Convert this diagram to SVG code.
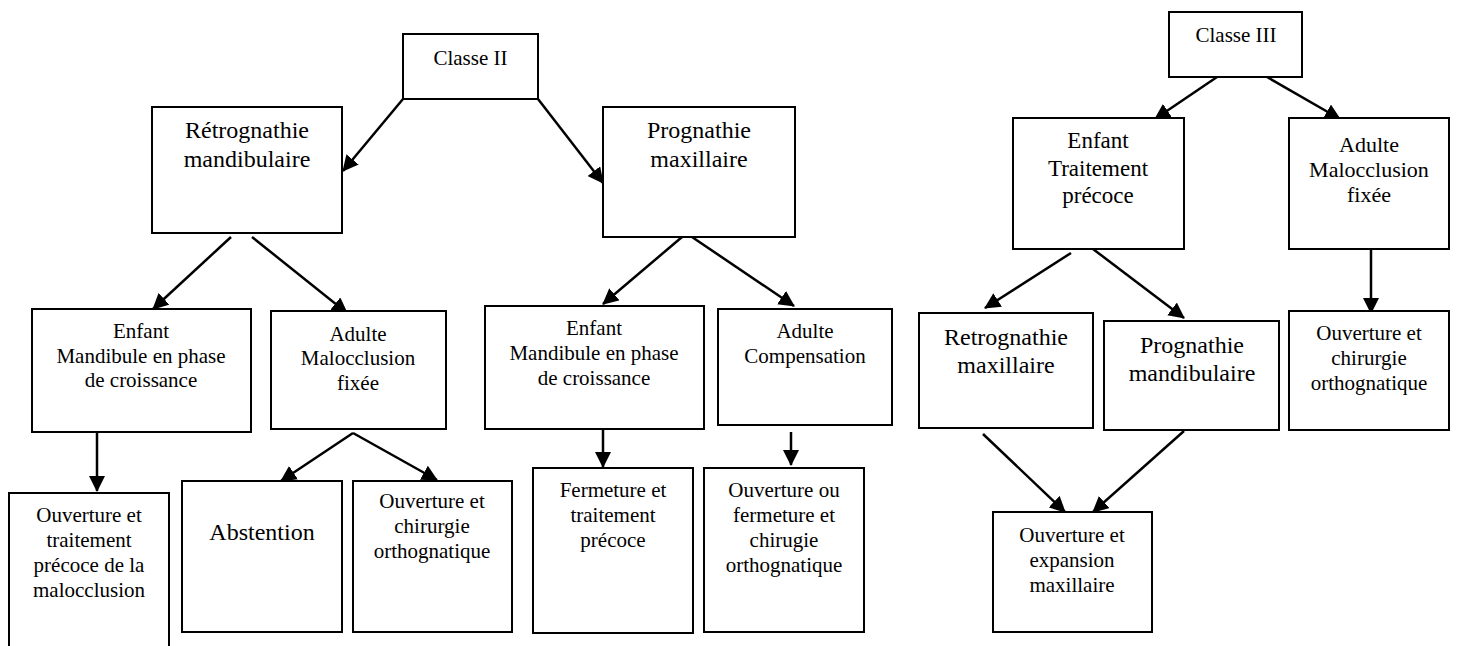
<svg xmlns="http://www.w3.org/2000/svg" width="1457" height="646" viewBox="0 0 1457 646">
<style>
.box{fill:#fff;stroke:#000;stroke-width:2}
.t{font-family:"Liberation Serif","Times New Roman",serif;fill:#000;text-anchor:middle}
.s21{font-size:21px}
.s24{font-size:24px}
.c{stroke:#000;stroke-width:2.5;fill:none;marker-end:url(#ah)}
</style>
<defs>
<marker id="ah" viewBox="0 0 16 16" refX="15" refY="8" markerWidth="16" markerHeight="16" markerUnits="userSpaceOnUse" orient="auto">
<path d="M0,0 L16,8 L0,16 z" fill="#000"/>
</marker>
</defs>
<rect width="1457" height="646" fill="#fff"/>
<g id="connectors">
<line class="c" x1="403" y1="99" x2="343" y2="171"/>
<line class="c" x1="538" y1="99" x2="603" y2="183"/>
<line class="c" x1="231" y1="237" x2="153" y2="309"/>
<line class="c" x1="252" y1="237" x2="347" y2="313"/>
<line class="c" x1="682" y1="237" x2="603" y2="304"/>
<line class="c" x1="692" y1="237" x2="794" y2="306"/>
<line class="c" x1="97" y1="432" x2="97" y2="491"/>
<line class="c" x1="353" y1="433" x2="281" y2="481"/>
<line class="c" x1="353" y1="433" x2="437" y2="480"/>
<line class="c" x1="603" y1="429" x2="603" y2="467"/>
<line class="c" x1="791" y1="432" x2="791" y2="465"/>
<line class="c" x1="1217" y1="77" x2="1155" y2="119"/>
<line class="c" x1="1267" y1="77" x2="1340" y2="119"/>
<line class="c" x1="1371" y1="249" x2="1371" y2="313"/>
<line class="c" x1="1071" y1="253" x2="985" y2="308"/>
<line class="c" x1="1093" y1="249" x2="1184" y2="318"/>
<line class="c" x1="983" y1="434" x2="1065" y2="512"/>
<line class="c" x1="1184" y1="431" x2="1093" y2="512"/>
</g>
<g id="classe2"><rect class="box" x="403" y="34" width="135" height="65"/><text class="t s21" x="470.5" y="65">Classe II</text></g>
<g id="retro_mand"><rect class="box" x="152" y="107" width="190" height="126"/><text class="t s24" x="247" y="138">Rétrognathie</text><text class="t s24" x="247" y="167">mandibulaire</text></g>
<g id="prog_max"><rect class="box" x="603" y="107" width="192" height="130"/><text class="t s24" x="699" y="138">Prognathie</text><text class="t s24" x="699" y="167">maxillaire</text></g>
<g id="enfant1"><rect class="box" x="32" y="309" width="219" height="123"/><text class="t s21" x="141" y="338">Enfant</text><text class="t s21" x="141" y="363">Mandibule en phase</text><text class="t s21" x="141" y="387">de croissance</text></g>
<g id="adulte1"><rect class="box" x="271" y="311" width="175" height="118"/><text class="t s21" x="358" y="341">Adulte</text><text class="t s21" x="358" y="365">Malocclusion</text><text class="t s21" x="358" y="390">fixée</text></g>
<g id="ouv_trait"><rect class="box" x="9" y="493" width="160" height="170"/><text class="t s21" x="89" y="522">Ouverture et</text><text class="t s21" x="89" y="547">traitement</text><text class="t s21" x="89" y="572">précoce de la</text><text class="t s21" x="89" y="597">malocclusion</text></g>
<g id="abstention"><rect class="box" x="182" y="481" width="160" height="151"/><text class="t s24" x="262" y="540">Abstention</text></g>
<g id="ouv_chir1"><rect class="box" x="353" y="481" width="159" height="151"/><text class="t s21" x="432" y="508">Ouverture et</text><text class="t s21" x="432" y="533">chirurgie</text><text class="t s21" x="432" y="558">orthognatique</text></g>
<g id="enfant2"><rect class="box" x="485" y="306" width="219" height="123"/><text class="t s21" x="594" y="335">Enfant</text><text class="t s21" x="594" y="360">Mandibule en phase</text><text class="t s21" x="594" y="385">de croissance</text></g>
<g id="adulte_comp"><rect class="box" x="718" y="309" width="174" height="116"/><text class="t s21" x="805" y="338">Adulte</text><text class="t s21" x="805" y="363">Compensation</text></g>
<g id="fermeture"><rect class="box" x="533" y="468" width="160" height="165"/><text class="t s21" x="613" y="497">Fermeture et</text><text class="t s21" x="613" y="522">traitement</text><text class="t s21" x="613" y="547">précoce</text></g>
<g id="ouv_ferm"><rect class="box" x="704" y="468" width="160" height="164"/><text class="t s21" x="784" y="497">Ouverture ou</text><text class="t s21" x="784" y="522">fermeture et</text><text class="t s21" x="784" y="547">chirugie</text><text class="t s21" x="784" y="572">orthognatique</text></g>
<g id="classe3"><rect class="box" x="1169" y="12" width="133" height="65"/><text class="t s21" x="1236" y="42">Classe III</text></g>
<g id="enfant3"><rect class="box" x="1013" y="118" width="171" height="131"/><text class="t" font-size="23" x="1098" y="148">Enfant</text><text class="t" font-size="23" x="1098" y="176">Traitement</text><text class="t" font-size="23" x="1098" y="203">précoce</text></g>
<g id="adulte3"><rect class="box" x="1289" y="118" width="160" height="131"/><text class="t" font-size="22" x="1369" y="152">Adulte</text><text class="t" font-size="22" x="1369" y="177">Malocclusion</text><text class="t" font-size="22" x="1369" y="202">fixée</text></g>
<g id="ouv_chir3"><rect class="box" x="1289" y="311" width="160" height="119"/><text class="t s21" x="1369" y="340">Ouverture et</text><text class="t s21" x="1369" y="365">chirurgie</text><text class="t s21" x="1369" y="390">orthognatique</text></g>
<g id="retro_max"><rect class="box" x="919" y="313" width="174" height="115"/><text class="t s24" x="1006" y="345">Retrognathie</text><text class="t s24" x="1006" y="373">maxillaire</text></g>
<g id="prog_mand"><rect class="box" x="1104" y="321" width="175" height="109"/><text class="t s24" x="1192" y="353">Prognathie</text><text class="t s24" x="1192" y="381">mandibulaire</text></g>
<g id="ouv_exp"><rect class="box" x="993" y="512" width="159" height="120"/><text class="t s21" x="1072" y="542">Ouverture et</text><text class="t s21" x="1072" y="567">expansion</text><text class="t s21" x="1072" y="592">maxillaire</text></g>
</svg>
